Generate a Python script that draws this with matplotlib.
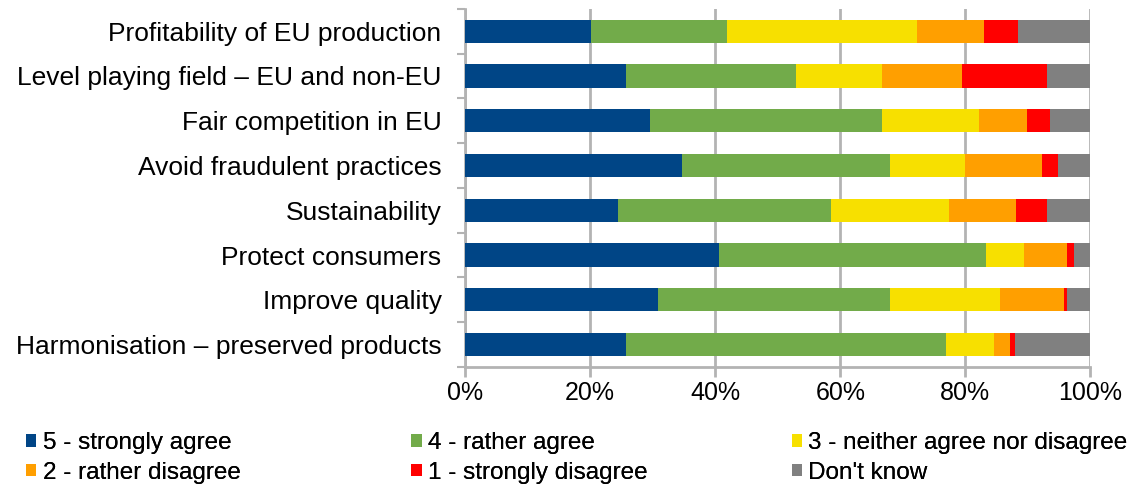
import matplotlib
matplotlib.use("Agg")
import matplotlib.pyplot as plt
from matplotlib.patches import Patch
import numpy as np

plt.rcParams['font.family'] = ['Liberation Sans', 'DejaVu Sans']

categories = [
    "Profitability of EU production",
    "Level playing field \u2013 EU and non-EU",
    "Fair competition in EU",
    "Avoid fraudulent practices",
    "Sustainability",
    "Protect consumers",
    "Improve quality",
    "Harmonisation \u2013 preserved products",
]
series_names = ["5 - strongly agree", "4 - rather agree", "3 - neither agree nor disagree",
                "2 - rather disagree", "1 - strongly disagree", "Don't know"]
strongly_agree    = [20.1, 25.7, 29.5, 34.7, 24.4, 40.6, 30.8, 25.7]
rather_agree      = [21.7, 27.2, 37.1, 33.2, 34.1, 42.7, 37.1, 51.2]
neither           = [30.5, 13.7, 15.5, 12.0, 18.9, 6.0, 17.6, 7.7]
rather_disagree   = [10.7, 12.9, 7.7, 12.4, 10.7, 6.9, 10.3, 2.6]
strongly_disagree = [5.4, 13.6, 3.8, 2.5, 5.0, 1.1, 0.4, 0.8]
dont_know         = [11.6, 6.9, 6.4, 5.2, 6.9, 2.7, 3.8, 12.0]
colors = ["#004586", "#72AB4A", "#F7E000", "#FF9F00", "#FF0000", "#808080"]
xticklabels = ["0%", "20%", "40%", "60%", "80%", "100%"]

series = [strongly_agree, rather_agree, neither, rather_disagree, strongly_disagree, dont_know]

fig = plt.figure(figsize=(11.43, 4.88), dpi=100)
ax = fig.add_axes([0.407, 0.248, 0.547, 0.734])

y = np.arange(len(categories))
left = np.zeros(len(categories))
for vals, col, name in zip(series, colors, series_names):
    v = np.array(vals)
    ax.barh(y, v, left=left, height=0.52, color=col, label=name, zorder=3)
    left += v

ax.set_ylim(len(categories) - 0.5, -0.5)
ax.set_xlim(0, 100)
ax.set_xticks([0, 20, 40, 60, 80, 100])
ax.set_xticklabels(xticklabels, fontsize=18)
ax.set_yticks(y)
ax.set_yticklabels(categories, fontsize=19)
ax.tick_params(axis='y', length=0, pad=17)
ax.set_yticks(np.arange(len(categories) + 1) - 0.5, minor=True)
ax.tick_params(axis='y', which='minor', length=6, color='#B3B3B3', width=1.5)
ax.tick_params(axis='x', length=7, color='#B3B3B3', width=2, pad=3)
ax.grid(axis='x', color='#B3B3B3', linewidth=2, zorder=0)
for s in ['top', 'right']:
    ax.spines[s].set_visible(False)
for s in ['left', 'bottom']:
    ax.spines[s].set_color('#B3B3B3')
    ax.spines[s].set_linewidth(2)

handles = [Patch(facecolor=c, edgecolor='none') for c in colors]
col_x = [0.023, 0.360, 0.693]
for i in range(3):
    hs = [handles[i], handles[i + 3]]
    ls = [series_names[i], series_names[i + 3]]
    leg = fig.legend(hs, ls, loc='upper left', bbox_to_anchor=(col_x[i], 0.114),
                     frameon=False, fontsize=17.5, handlelength=0.42, handleheight=0.42,
                     handletextpad=0.25, labelspacing=0.3, borderaxespad=0, borderpad=0)
    fig.add_artist(leg)

fig.savefig("out.png", dpi=100)
